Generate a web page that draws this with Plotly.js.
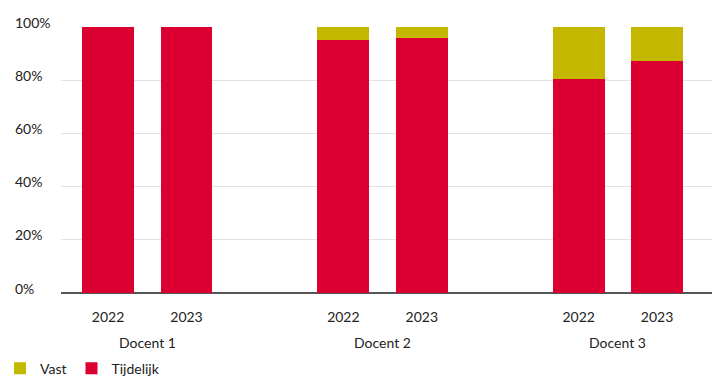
<!DOCTYPE html>
<html>
<head>
<meta charset="utf-8">
<script src="https://cdn.plot.ly/plotly-3.0.1.min.js"></script>
<style>html,body{margin:0;padding:0;background:#fff;}#chart{width:712px;height:378px;}</style>
</head>
<body>
<div id="chart"></div>
<script>
const groups = ['Docent 1', 'Docent 2', 'Docent 3'];
const years = ['2022', '2023'];
const tijdelijk = [100, 100, 95.1, 96.0, 80.5, 87.3];
const vast = [0, 0, 4.9, 4.0, 19.5, 12.7];
const yTicks = [0, 20, 40, 60, 80, 100];
const yTickText = ['0%', '20%', '40%', '60%', '80%', '100%'];

const FONT = 'Lato, "Noto Sans", sans-serif';
// positions: each group gets years plus one empty slot
const xs = [];
const yearLabels = [];
groups.forEach((g, gi) => years.forEach((y, yi) => { xs.push(gi * 3 + yi); yearLabels.push(y); }));

const traces = [
  {type: 'bar', name: 'Tijdelijk', x: xs, y: tijdelijk, width: 0.66,
   marker: {color: '#dc0032', line: {width: 0}}, hoverinfo: 'none'},
  {type: 'bar', name: 'Vast', x: xs, y: vast, width: 0.66,
   marker: {color: '#c4b700', line: {width: 0}}, hoverinfo: 'none'}
];

const annotations = [];
yTicks.forEach((v, i) => annotations.push({
  xref: 'paper', yref: 'y', x: -0.074, y: v, text: yTickText[i], showarrow: false,
  xanchor: 'left', yanchor: 'middle', yshift: 5, font: {family: FONT, size: 14, color: '#222'}
}));
groups.forEach((g, gi) => annotations.push({
  xref: 'x', yref: 'paper', x: gi * 3 + 0.5, y: 0, yshift: -49, text: g, showarrow: false,
  xanchor: 'center', yanchor: 'middle', font: {family: FONT, size: 14, color: '#222'}
}));

const layout = {
  width: 712, height: 378,
  margin: {l: 61, r: 0, t: 27, b: 85, autoexpand: false},
  paper_bgcolor: '#fff', plot_bgcolor: '#fff',
  barmode: 'stack',
  font: {family: FONT, size: 14, color: '#222'},
  showlegend: true,
  legend: {orientation: 'h', xref: 'container', yref: 'container', x: 0.0, xanchor: 'left',
           y: 0.025, yanchor: 'middle',
           traceorder: 'reversed', font: {family: FONT, size: 14, color: '#222'},
           itemwidth: 30, tracegroupgap: 0},
  xaxis: {range: [-0.6, 7.7], tickmode: 'array', tickvals: xs, ticktext: yearLabels,
          showgrid: false, zeroline: false, showline: false, ticks: '', fixedrange: true,
          ticklabelstandoff: 14,
          tickfont: {family: FONT, size: 14, color: '#222'}},
  yaxis: {range: [0, 100], tickvals: yTicks, showticklabels: false, showgrid: true,
          gridcolor: '#e3e3e3', gridwidth: 1, zeroline: true, zerolinecolor: '#555',
          zerolinewidth: 1.5, showline: false, ticks: '', fixedrange: true},
  annotations: annotations
};

Plotly.newPlot('chart', traces, layout, {displayModeBar: false, staticPlot: true});
</script>
</body>
</html>
